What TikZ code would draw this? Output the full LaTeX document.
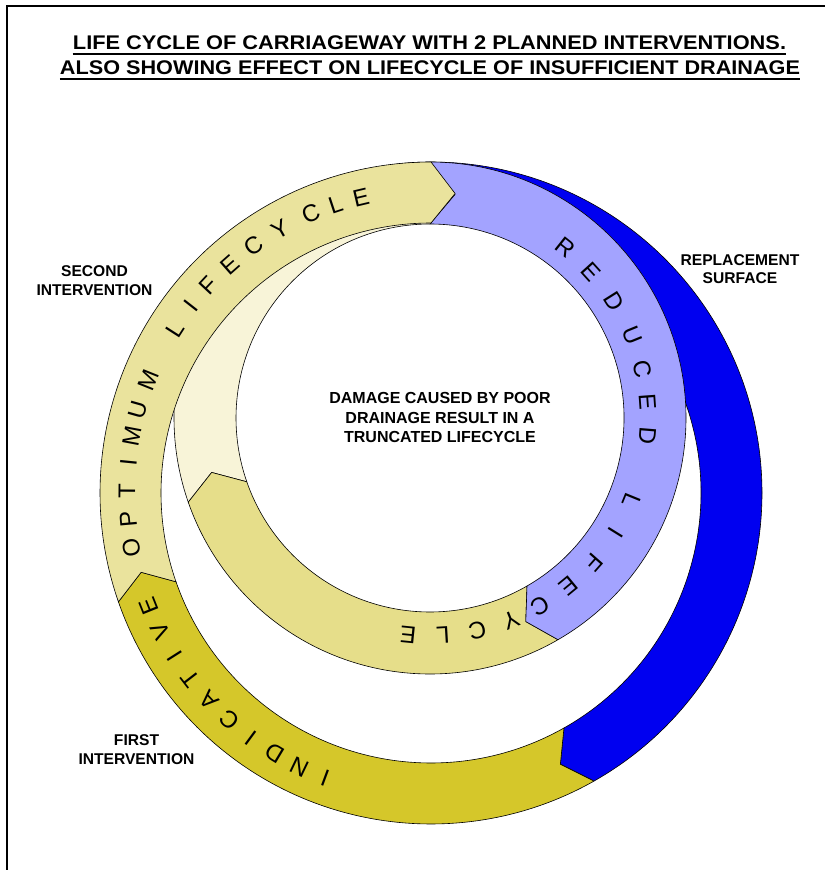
\documentclass[tikz,border=0pt]{standalone}
\usepackage{fontspec}
\setmainfont{Liberation Sans}
\usepackage{graphicx}
\definecolor{optc}{HTML}{EAE39D}
\definecolor{creamc}{HTML}{F8F4D8}
\definecolor{khakic}{HTML}{E6DE8A}
\definecolor{indc}{HTML}{D5C72A}
\definecolor{bluec}{HTML}{0000F0}
\definecolor{purpc}{HTML}{A3A3FF}
% #1 fill, #2 cx, #3 cy, #4 rin, #5 rout, #6 start angle, #7 end angle (clockwise), #8 notch, #9 tip
\newcommand{\RingSeg}[9]{%
  \filldraw[segline, fill=#1]
    ([shift={(#2,#3)}]#6:#5) arc[start angle=#6, end angle=#7, radius=#5]
    -- ([shift={(#2,#3)}]{#7-#9}:{(#4+#5)/2})
    -- ([shift={(#2,#3)}]#7:#4) arc[start angle=#7, end angle=#6, radius=#4]
    -- ([shift={(#2,#3)}]{#6-#8}:{(#4+#5)/2}) -- cycle;}
\begin{document}
\begin{tikzpicture}[x=1pt,y=1pt,
  segline/.style={draw=black, line width=0.6pt, line join=round},
  ltr/.style={font=\fontsize{24}{24}\selectfont, inner sep=0pt},
  lbl/.style={font=\fontsize{15.6}{18}\selectfont\bfseries, inner sep=0pt, anchor=base},
  ctr/.style={font=\fontsize{16}{19}\selectfont\bfseries, inner sep=0pt, anchor=base},
  ttl/.style={font=\bfseries, inner sep=0pt, anchor=base}]
\useasboundingbox (0,0) rectangle (825,-870);
% frame
\draw[line width=1.6pt] (7,-870) -- (7,-6) -- (825,-6);
% title
\node[ttl] (t1) at (429.5,-49) {\resizebox{713pt}{13.8pt}{LIFE CYCLE OF CARRIAGEWAY WITH 2 PLANNED INTERVENTIONS.}};
\node[ttl] (t2) at (430,-74) {\resizebox{740pt}{13.8pt}{ALSO SHOWING EFFECT ON LIFECYCLE OF INSUFFICIENT DRAINAGE}};
\draw[line width=1.3pt] ([yshift=-5pt]t1.base west) -- ([yshift=-5pt]t1.base east);
\draw[line width=1.3pt] ([yshift=-5pt]t2.base west) -- ([yshift=-5pt]t2.base east);
% big ring segments
\RingSeg{bluec}{431}{-493}{270}{331}{90}{-60.5}{4.6}{4}
\RingSeg{indc}{431}{-493}{270}{331}{-60.5}{-160.8}{4}{3.9}
% inner ring segments
\RingSeg{creamc}{430}{-418}{194}{256}{199.2}{90}{5.2}{6.4}
\RingSeg{khakic}{430}{-418}{194}{256}{-60}{-160.8}{4.8}{5.2}
\RingSeg{purpc}{430}{-418}{194}{256}{90}{-60}{6.4}{4.8}
% optimum on top
\RingSeg{optc}{431}{-493}{270}{331}{199.2}{90}{3.9}{4.6}
% outer ring text
\foreach \ch/\a [count=\i] in {I/249.6,N/244.3,D/239.0,I/233.7,C/228.4,A/223.0,T/217.7,I/212.4,V/207.1,E/201.8,
  O/190.3,P/185.0,T/179.6,I/174.3,M/169.3,U/164.2,M/158.2,L/147.4,I/142.0,F/137.0,E/131.4,C/125.7,Y/119.8,C/113.3,L/108.3,E/103.3}
  \node[ltr, rotate=\a-90] (ot\i) at ([shift={(431,-493)}]\a:304) {\ch};
% inner ring text
\foreach \ch/\a [count=\i] in {R/51.5,E/42.2,D/32.2,U/22.2,C/13.0,E/4.2,D/-4.6,
  L/-22.2,I/-31.8,F/-41.4,E/-50.6,C/-59.6,Y/-68.2,C/-77.4,L/-86.6,E/-95.8}
  \node[ltr, rotate=\a-90] (it\i) at ([shift={(430,-418)}]\a:218) {\ch};
% labels
\node[lbl] (sec1) at (94.5,-276) {SECOND};
\node[lbl] (sec2) at (94.5,-295) {INTERVENTION};
\node[lbl] (rep1) at (740,-265) {REPLACEMENT};
\node[lbl] (rep2) at (740,-283.3) {SURFACE};
\node[lbl] (fir1) at (136.5,-745) {FIRST};
\node[lbl] (fir2) at (136.5,-764.3) {INTERVENTION};
\node[ctr] (c1) at (440,-403.3) {DAMAGE CAUSED BY POOR};
\node[ctr] (c2) at (440,-423.3) {DRAINAGE RESULT IN A};
\node[ctr] (c3) at (440,-442.7) {TRUNCATED LIFECYCLE};
\end{tikzpicture}
\end{document}
